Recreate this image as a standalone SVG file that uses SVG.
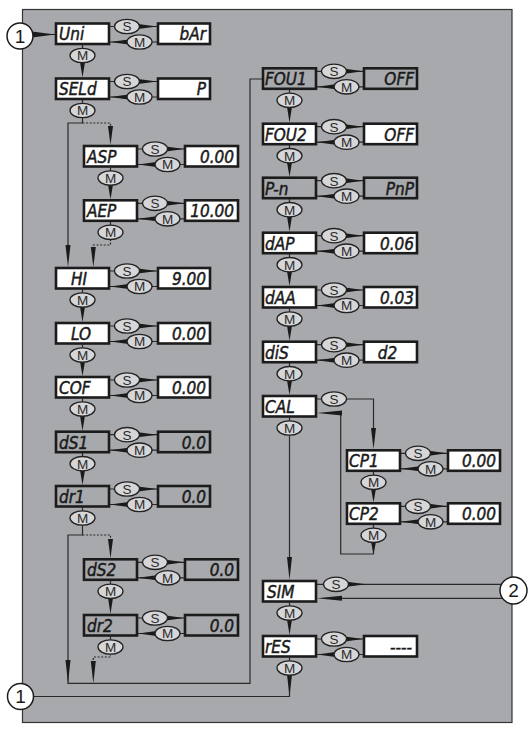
<svg xmlns="http://www.w3.org/2000/svg" width="531" height="731" viewBox="0 0 531 731">
<style>
.bg{fill:#a8a9ad;stroke:#333;stroke-width:1.2}
.bw{fill:#fff;stroke:#1c1c1c;stroke-width:2.6}
.bgy{fill:#a8a9ad;stroke:#1c1c1c;stroke-width:2.6}
.t{font-family:"DejaVu Sans","Liberation Sans",sans-serif;font-stretch:condensed;font-style:oblique;font-size:17px;fill:#1a1a1a;stroke:#1a1a1a;stroke-width:0.45}
.v{text-anchor:end}
.ln{fill:none;stroke:#2a2a2a;stroke-width:1.2}
.dt{fill:none;stroke:#2a2a2a;stroke-width:1.2;stroke-dasharray:2 1.6}
.w{fill:#1a1a1a}
.el{fill:#d6d6d8;stroke:#222;stroke-width:1.3}
.el-t{font-family:"Liberation Sans",Arial,sans-serif;font-size:13.5px;fill:#2a2a2a;text-anchor:middle}
.ci{fill:#fff;stroke:#1c1c1c;stroke-width:1.5}
.ci-t{font-family:"Liberation Sans",Arial,sans-serif;font-size:19px;fill:#1a1a1a;text-anchor:middle}
</style>
<defs>
<g id="eS"><ellipse class="el" rx="12.5" ry="7.2"/><text class="el-t" y="4.8">S</text></g>
<g id="eM"><ellipse class="el" rx="12.5" ry="7.2"/><text class="el-t" y="4.8">M</text></g>
</defs>
<rect class="bg" x="22.5" y="9.5" width="489.5" height="713"/>

<g id="connectors">
<path class="ln" d="M33,34.5H55 M110,26.5H157 M110,42H157 M110,81.5H157 M110,97H157 M138,149H184 M138,164.5H184 M138,203.3H184 M138,218.8H184 M110,271H157 M110,286.5H157 M110,326H157 M110,341.5H157 M110,380H157 M110,395.5H157 M110,434.7H157 M110,450.2H157 M110,489H157 M110,504.5H157 M138,562.3H184 M138,577.8H184 M138,618H184 M138,633.5H184"/>
<path class="ln" d="M317,71.3H363 M317,86.8H363 M317,126.7H363 M317,142.2H363 M317,180.7H363 M317,196.2H363 M317,235.7H363 M317,251.2H363 M317,290H363 M317,305.5H363 M317,344.7H363 M317,360.2H363 M401,453.3H447 M401,468.8H447 M401,506.3H447 M401,521.8H447 M317,639H363 M317,654.5H363"/>
<path class="ln" d="M82.5,45V50 M82.5,100V104 M110.5,167.5V172 M110.5,221.8V226 M82.5,289.5V294 M82.5,344.5V349 M82.5,398.5V403 M82.5,453V457 M82.5,507.5V512 M110.5,580.8V585 M110.5,636.5V641 M289.5,89.8V94 M289.5,145V149 M289.5,199V203 M289.5,254V258 M289.5,308.5V313 M289.5,363V367 M289.5,417.5V422 M373.5,471.8V476 M373.5,524.8V529 M289.5,602.5V607 M289.5,657.5V662"/>
<path class="ln" d="M82.5,117V123H68V250"/>
<path class="dt" d="M82.5,123H110.5V128"/>
<path class="dt" d="M110.5,239V245H93.3V250"/>
<path class="ln" d="M82.5,524V535H68V683.3H250V79H262"/>
<path class="dt" d="M82.5,535H110.5V540"/>
<path class="dt" d="M110.5,653.5V657H93.3V663"/>
<path class="ln" d="M317,399H322 M346,399H373.5V430 M373.5,542V554H340.7V413H330"/>
<path class="ln" d="M289.5,434.5V560"/>
<path class="ln" d="M317,584.3H324 M348,584.3H505 M505,598.3H330"/>
<path class="ln" d="M289.5,674V696.5H33"/>

<g class="w">
<polygon points="32,31.5 32,37.5 55,34.5"/>
<polygon points="138,24 138,29 157,26.5"/><polygon points="128.5,39.5 128.5,44.5 110,42"/>
<polygon points="138,79 138,84 157,81.5"/><polygon points="128.5,94.5 128.5,99.5 110,97"/>
<polygon points="138,268.5 138,273.5 157,271"/><polygon points="128.5,284 128.5,289 110,286.5"/>
<polygon points="138,323.5 138,328.5 157,326"/><polygon points="128.5,339 128.5,344 110,341.5"/>
<polygon points="138,377.5 138,382.5 157,380"/><polygon points="128.5,393 128.5,398 110,395.5"/>
<polygon points="138,432.2 138,437.2 157,434.7"/><polygon points="128.5,447.7 128.5,452.7 110,450.2"/>
<polygon points="138,486.5 138,491.5 157,489"/><polygon points="128.5,502 128.5,507 110,504.5"/>
<polygon points="166,146.5 166,151.5 184,149"/><polygon points="156.5,162 156.5,167 138,164.5"/>
<polygon points="166,200.8 166,205.8 184,203.3"/><polygon points="156.5,216.3 156.5,221.3 138,218.8"/>
<polygon points="166,559.8 166,564.8 184,562.3"/><polygon points="156.5,575.3 156.5,580.3 138,577.8"/>
<polygon points="166,615.5 166,620.5 184,618"/><polygon points="156.5,631 156.5,636 138,633.5"/>
<polygon points="345,68.8 345,73.8 363,71.3"/><polygon points="335.5,84.3 335.5,89.3 317,86.8"/>
<polygon points="345,124.2 345,129.2 363,126.7"/><polygon points="335.5,139.7 335.5,144.7 317,142.2"/>
<polygon points="345,178.2 345,183.2 363,180.7"/><polygon points="335.5,193.7 335.5,198.7 317,196.2"/>
<polygon points="345,233.2 345,238.2 363,235.7"/><polygon points="335.5,248.7 335.5,253.7 317,251.2"/>
<polygon points="345,287.5 345,292.5 363,290"/><polygon points="335.5,303 335.5,308 317,305.5"/>
<polygon points="345,342.2 345,347.2 363,344.7"/><polygon points="335.5,357.7 335.5,362.7 317,360.2"/>
<polygon points="345,636.5 345,641.5 363,639"/><polygon points="335.5,652 335.5,657 317,654.5"/>
<polygon points="429,450.8 429,455.8 447,453.3"/><polygon points="419.5,466.3 419.5,471.3 401,468.8"/>
<polygon points="429,503.8 429,508.8 447,506.3"/><polygon points="419.5,519.3 419.5,524.3 401,521.8"/>
<polygon points="80,62 85,62 82.5,77.5"/>
<polygon points="108,184.5 113,184.5 110.5,199.3"/>
<polygon points="80,306.5 85,306.5 82.5,322"/>
<polygon points="80,361.5 85,361.5 82.5,376"/>
<polygon points="80,415.5 85,415.5 82.5,430.7"/>
<polygon points="80,470 85,470 82.5,485"/>
<polygon points="108,597.8 113,597.8 110.5,614"/>
<polygon points="287,106.8 292,106.8 289.5,122.7"/>
<polygon points="287,162.2 292,162.2 289.5,176.7"/>
<polygon points="287,216.2 292,216.2 289.5,231.7"/>
<polygon points="287,271.2 292,271.2 289.5,286"/>
<polygon points="287,325.5 292,325.5 289.5,340.7"/>
<polygon points="287,380.2 292,380.2 289.5,395"/>
<polygon points="371,488.8 376,488.8 373.5,502.3"/>
<polygon points="371,541.8 376,541.8 373.5,554"/>
<polygon points="287,619.5 292,619.5 289.5,635"/>
<polygon points="287,674.5 292,674.5 289.5,696.5"/>
<polygon points="65.5,245 70.5,245 68,267"/>
<polygon points="108,126 113,126 110.5,145"/>
<polygon points="90.8,247 95.8,247 93.3,267"/>
<polygon points="65.5,660 70.5,660 68,683.3"/>
<polygon points="108,539 113,539 110.5,558.3"/>
<polygon points="90.8,661 95.8,661 93.3,683.3"/>
<polygon points="371,428 376,428 373.5,449.3"/>
<polygon points="342,410.5 342,415.5 317,413"/>
<polygon points="287,557 292,557 289.5,580"/>
<polygon points="347,581.8 347,586.8 366,584.3"/>
<polygon points="342,595.8 342,600.8 317,598.3"/>
</g>

<use href="#eS" x="127" y="26.5"/><use href="#eM" x="139.5" y="42"/><use href="#eM" x="82.5" y="55.5"/>
<use href="#eS" x="127" y="81.5"/><use href="#eM" x="139.5" y="97"/><use href="#eM" x="82.5" y="110.5"/>
<use href="#eS" x="155" y="149"/><use href="#eM" x="167.5" y="164.5"/><use href="#eM" x="110.5" y="178"/>
<use href="#eS" x="155" y="203.3"/><use href="#eM" x="167.5" y="218.8"/><use href="#eM" x="110.5" y="232.3"/>
<use href="#eS" x="127" y="271"/><use href="#eM" x="139.5" y="286.5"/><use href="#eM" x="82.5" y="300"/>
<use href="#eS" x="127" y="326"/><use href="#eM" x="139.5" y="341.5"/><use href="#eM" x="82.5" y="355"/>
<use href="#eS" x="127" y="380"/><use href="#eM" x="139.5" y="395.5"/><use href="#eM" x="82.5" y="409"/>
<use href="#eS" x="127" y="434.7"/><use href="#eM" x="139.5" y="450.2"/><use href="#eM" x="82.5" y="463.7"/>
<use href="#eS" x="127" y="489"/><use href="#eM" x="139.5" y="504.5"/><use href="#eM" x="82.5" y="518"/>
<use href="#eS" x="155" y="562.3"/><use href="#eM" x="167.5" y="577.8"/><use href="#eM" x="110.5" y="591.3"/>
<use href="#eS" x="155" y="618"/><use href="#eM" x="167.5" y="633.5"/><use href="#eM" x="110.5" y="647"/>
<use href="#eS" x="334" y="71.3"/><use href="#eM" x="346.5" y="86.8"/><use href="#eM" x="289.5" y="100.3"/>
<use href="#eS" x="334" y="126.7"/><use href="#eM" x="346.5" y="142.2"/><use href="#eM" x="289.5" y="155.7"/>
<use href="#eS" x="334" y="180.7"/><use href="#eM" x="346.5" y="196.2"/><use href="#eM" x="289.5" y="209.7"/>
<use href="#eS" x="334" y="235.7"/><use href="#eM" x="346.5" y="251.2"/><use href="#eM" x="289.5" y="264.7"/>
<use href="#eS" x="334" y="290"/><use href="#eM" x="346.5" y="305.5"/><use href="#eM" x="289.5" y="319"/>
<use href="#eS" x="334" y="344.7"/><use href="#eM" x="346.5" y="360.2"/><use href="#eM" x="289.5" y="373.7"/>
<use href="#eS" x="334" y="399"/><use href="#eM" x="289.5" y="428"/>
<use href="#eS" x="418" y="453.3"/><use href="#eM" x="430.5" y="468.8"/><use href="#eM" x="373.5" y="482.3"/>
<use href="#eS" x="418" y="506.3"/><use href="#eM" x="430.5" y="521.8"/><use href="#eM" x="373.5" y="535.3"/>
<use href="#eS" x="336" y="584.3"/><use href="#eM" x="289.5" y="613"/>
<use href="#eS" x="334" y="639"/><use href="#eM" x="346.5" y="654.5"/><use href="#eM" x="289.5" y="668"/>
</g>

<g id="marker-1-top"><circle class="ci" cx="20" cy="36" r="13"/><text class="ci-t" x="20" y="42.8">1</text></g>
<g id="marker-1-bottom"><circle class="ci" cx="20.5" cy="696.5" r="13"/><text class="ci-t" x="20.5" y="703.3">1</text></g>
<g id="marker-2"><circle class="ci" cx="513.5" cy="590.5" r="13.5"/><text class="ci-t" x="513.5" y="597.3">2</text></g>

<g id="n-uni"><rect class="bw" x="56" y="23.5" width="53" height="20.5"/><text class="t" x="59" y="40.3">Uni</text></g>
<g id="v-uni"><rect class="bw" x="158" y="23.5" width="52" height="20.5"/><text class="t v" x="206" y="40.3">bAr</text></g>
<g id="n-seld"><rect class="bw" x="56" y="78.5" width="53" height="20.5"/><text class="t" x="59" y="95.3">SELd</text></g>
<g id="v-seld"><rect class="bw" x="158" y="78.5" width="52" height="20.5"/><text class="t v" x="206" y="95.3">P</text></g>
<g id="n-asp"><rect class="bw" x="84" y="146" width="53" height="20.5"/><text class="t" x="87" y="162.8">ASP</text></g>
<g id="v-asp"><rect class="bw" x="185" y="146" width="53" height="20.5"/><text class="t v" x="234" y="162.8">0.00</text></g>
<g id="n-aep"><rect class="bw" x="84" y="200.3" width="53" height="20.5"/><text class="t" x="87" y="217.1">AEP</text></g>
<g id="v-aep"><rect class="bw" x="185" y="200.3" width="53" height="20.5"/><text class="t v" x="234" y="217.1">10.00</text></g>
<g id="n-hi"><rect class="bw" x="56" y="268" width="53" height="20.5"/><text class="t" x="71" y="284.8">HI</text></g>
<g id="v-hi"><rect class="bw" x="158" y="268" width="52" height="20.5"/><text class="t v" x="206" y="284.8">9.00</text></g>
<g id="n-lo"><rect class="bw" x="56" y="323" width="53" height="20.5"/><text class="t" x="71" y="339.8">LO</text></g>
<g id="v-lo"><rect class="bw" x="158" y="323" width="52" height="20.5"/><text class="t v" x="206" y="339.8">0.00</text></g>
<g id="n-cof"><rect class="bw" x="56" y="377" width="53" height="20.5"/><text class="t" x="59" y="393.8">COF</text></g>
<g id="v-cof"><rect class="bw" x="158" y="377" width="52" height="20.5"/><text class="t v" x="206" y="393.8">0.00</text></g>
<g id="n-ds1"><rect class="bgy" x="56" y="431.7" width="53" height="20.5"/><text class="t" x="59" y="448.5">dS1</text></g>
<g id="v-ds1"><rect class="bgy" x="158" y="431.7" width="52" height="20.5"/><text class="t v" x="206" y="448.5">0.0</text></g>
<g id="n-dr1"><rect class="bgy" x="56" y="486" width="53" height="20.5"/><text class="t" x="59" y="502.8">dr1</text></g>
<g id="v-dr1"><rect class="bgy" x="158" y="486" width="52" height="20.5"/><text class="t v" x="206" y="502.8">0.0</text></g>
<g id="n-ds2"><rect class="bgy" x="84" y="559.3" width="53" height="20.5"/><text class="t" x="87" y="576.1">dS2</text></g>
<g id="v-ds2"><rect class="bgy" x="185" y="559.3" width="53" height="20.5"/><text class="t v" x="234" y="576.1">0.0</text></g>
<g id="n-dr2"><rect class="bgy" x="84" y="615" width="53" height="20.5"/><text class="t" x="87" y="631.8">dr2</text></g>
<g id="v-dr2"><rect class="bgy" x="185" y="615" width="53" height="20.5"/><text class="t v" x="234" y="631.8">0.0</text></g>

<g id="n-fou1"><rect class="bgy" x="263" y="68.3" width="53" height="20.5"/><text class="t" x="265" y="85.1">FOU1</text></g>
<g id="v-fou1"><rect class="bgy" x="364" y="68.3" width="53" height="20.5"/><text class="t v" x="414" y="85.1">OFF</text></g>
<g id="n-fou2"><rect class="bw" x="263" y="123.7" width="53" height="20.5"/><text class="t" x="265" y="140.5">FOU2</text></g>
<g id="v-fou2"><rect class="bw" x="364" y="123.7" width="53" height="20.5"/><text class="t v" x="414" y="140.5">OFF</text></g>
<g id="n-pn"><rect class="bgy" x="263" y="177.7" width="53" height="20.5"/><text class="t" x="265" y="194.5">P-n</text></g>
<g id="v-pn"><rect class="bgy" x="364" y="177.7" width="53" height="20.5"/><text class="t v" x="414" y="194.5">PnP</text></g>
<g id="n-dap"><rect class="bw" x="263" y="232.7" width="53" height="20.5"/><text class="t" x="265" y="249.5">dAP</text></g>
<g id="v-dap"><rect class="bw" x="364" y="232.7" width="53" height="20.5"/><text class="t v" x="414" y="249.5">0.06</text></g>
<g id="n-daa"><rect class="bw" x="263" y="287" width="53" height="20.5"/><text class="t" x="265" y="303.8">dAA</text></g>
<g id="v-daa"><rect class="bw" x="364" y="287" width="53" height="20.5"/><text class="t v" x="414" y="303.8">0.03</text></g>
<g id="n-dis"><rect class="bw" x="263" y="341.7" width="53" height="20.5"/><text class="t" x="265" y="358.5">diS</text></g>
<g id="v-dis"><rect class="bw" x="364" y="341.7" width="53" height="20.5"/><text class="t" x="387.5" y="358.5" text-anchor="middle">d2</text></g>
<g id="n-cal"><rect class="bw" x="263" y="396" width="53" height="20.5"/><text class="t" x="265" y="412.8">CAL</text></g>
<g id="n-cp1"><rect class="bw" x="347" y="450.3" width="53" height="20.5"/><text class="t" x="349" y="467.1">CP1</text></g>
<g id="v-cp1"><rect class="bw" x="448" y="450.3" width="52" height="20.5"/><text class="t v" x="496" y="467.1">0.00</text></g>
<g id="n-cp2"><rect class="bw" x="347" y="503.3" width="53" height="20.5"/><text class="t" x="349" y="520.1">CP2</text></g>
<g id="v-cp2"><rect class="bw" x="448" y="503.3" width="52" height="20.5"/><text class="t v" x="496" y="520.1">0.00</text></g>
<g id="n-sim"><rect class="bw" x="263" y="581" width="53" height="20.5"/><text class="t" x="267" y="597.8">SIM</text></g>
<g id="n-res"><rect class="bw" x="263" y="636" width="53" height="20.5"/><text class="t" x="265" y="652.8">rES</text></g>
<g id="v-res"><rect class="bw" x="364" y="636" width="53" height="20.5"/><text class="t v" x="412" y="652.8">----</text></g>
</svg>
